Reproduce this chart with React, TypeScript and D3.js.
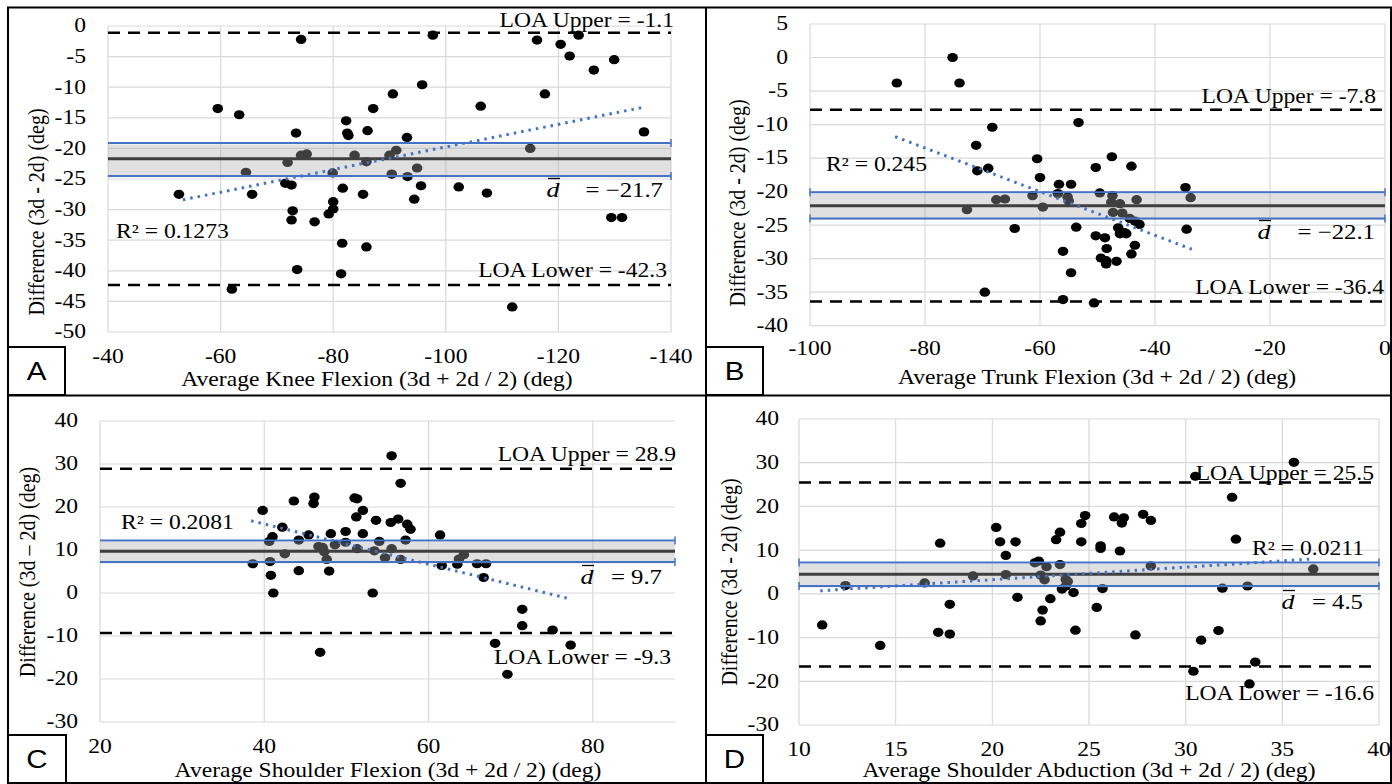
import React from 'react';
import * as d3 from 'd3';

type P = [number, number];

// ---------- DATA ----------
const kneePoints: P[] = [
  [-74.3, -2.2], [-97.7, -1.5], [-116.2, -2.3], [-120.4, -3.0], [-123.6, -1.5], [-122.0, -4.9],
  [-129.9, -5.5], [-126.3, -7.2], [-95.8, -9.6], [-90.6, -11.1], [-117.6, -11.1], [-106.2, -13.1],
  [-59.5, -13.5], [-63.3, -14.5], [-87.1, -13.5], [-82.3, -15.5], [-73.4, -17.5], [-82.5, -17.5],
  [-82.7, -17.9], [-86.1, -17.1], [-93.1, -18.2], [-135.2, -17.3], [-115.0, -20.0], [-91.2, -20.3],
  [-90.0, -21.1], [-83.8, -21.1], [-74.3, -21.1], [-75.3, -20.9], [-71.9, -22.3], [-85.9, -22.2],
  [-64.5, -23.9], [-79.9, -24.0], [-90.4, -24.2], [-94.9, -23.2], [-93.2, -24.6], [-71.5, -25.7],
  [-72.6, -26.0], [-95.6, -26.1], [-81.7, -26.5], [-102.3, -26.3], [-107.3, -27.3], [-52.6, -27.5],
  [-65.6, -27.5], [-85.3, -27.5], [-94.4, -28.3], [-80.0, -28.7], [-80.0, -29.9], [-79.2, -30.7],
  [-72.8, -30.2], [-72.6, -31.7], [-76.7, -32.0], [-129.4, -31.3], [-131.3, -31.3], [-81.6, -35.5],
  [-85.9, -36.1], [-73.6, -39.8], [-81.4, -40.5], [-62.0, -43.0], [-111.8, -45.9],
];

const trunkPoints: P[] = [
  [-75.2, 0.0], [-84.9, -3.8], [-74.0, -3.8], [-53.3, -9.7], [-68.3, -10.4], [-71.1, -13.1],
  [-69.0, -16.5], [-70.9, -16.9], [-60.5, -15.1], [-47.5, -14.8], [-50.3, -16.4], [-44.1, -16.2],
  [-60.0, -17.9], [-56.7, -18.9], [-54.6, -18.9], [-34.7, -19.4], [-33.8, -20.9], [-49.6, -20.2],
  [-47.4, -20.6], [-43.2, -21.2], [-61.3, -20.6], [-56.9, -20.3], [-55.2, -20.8], [-55.0, -21.4],
  [-67.6, -21.2], [-66.1, -21.1], [-72.7, -22.7], [-59.5, -22.3], [-47.6, -21.6], [-46.1, -21.8],
  [-47.3, -23.1], [-45.7, -23.2], [-44.4, -24.0], [-43.5, -24.4], [-42.7, -24.9], [-46.4, -25.4],
  [-46.1, -26.3], [-45.3, -26.1], [-45.0, -26.3], [-64.4, -25.5], [-53.7, -25.3], [-34.5, -25.6],
  [-50.3, -26.6], [-48.7, -26.9], [-43.5, -28.0], [-48.4, -28.5], [-56.0, -28.9], [-49.4, -29.9],
  [-48.5, -30.3], [-46.7, -30.4], [-48.5, -30.8], [-44.1, -29.3], [-54.6, -32.1], [-69.6, -35.0],
  [-56.0, -36.1], [-50.6, -36.6],
];

const shFlexPoints: P[] = [
  [55.5, 31.9], [56.6, 25.5], [46.1, 22.3], [46.0, 20.8], [43.6, 21.4], [51.0, 22.1], [51.3, 21.9],
  [39.8, 19.2], [52.0, 19.2], [51.2, 17.7], [53.6, 16.9], [55.4, 16.4], [56.3, 17.2], [57.4, 16.0],
  [57.8, 14.8], [42.2, 15.3], [45.4, 13.5], [48.1, 13.8], [49.9, 14.3], [52.0, 13.8], [61.4, 13.5],
  [41.0, 13.1], [44.2, 12.3], [40.6, 12.0], [57.2, 12.3], [54.0, 12.0], [49.9, 11.8], [48.6, 11.2],
  [46.6, 10.8], [47.1, 10.6], [55.5, 10.3], [51.3, 10.3], [53.4, 9.8], [47.3, 9.6], [42.5, 9.1],
  [47.6, 7.8], [56.6, 7.8], [54.7, 8.2], [64.3, 8.9], [63.7, 7.9], [63.5, 6.7], [61.6, 6.4],
  [38.6, 6.8], [40.7, 7.3], [65.9, 6.8], [67.0, 6.8], [66.7, 3.6], [40.8, 4.1], [44.2, 5.2],
  [47.9, 5.1], [41.1, 0.0], [53.2, 0.0], [71.4, -3.8], [71.4, -7.6], [75.1, -8.6], [68.1, -11.7],
  [77.3, -12.1], [46.8, -13.8], [69.6, -18.9],
];

const shAbdPoints: P[] = [
  [35.6, 30.1], [30.5, 26.9], [32.4, 22.1], [32.6, 12.5], [20.2, 15.2], [20.4, 11.9], [21.2, 11.9],
  [17.3, 11.6], [20.7, 8.8], [23.3, 12.4], [23.5, 14.1], [24.8, 17.9], [24.6, 16.1], [24.6, 11.9],
  [25.6, 11.0], [25.6, 10.4], [26.6, 9.8], [26.3, 17.6], [26.7, 16.2], [26.8, 17.4], [27.8, 18.2],
  [28.2, 16.8], [28.2, 6.4], [22.4, 7.5], [22.2, 7.1], [23.5, 6.7], [22.8, 6.2], [20.7, 4.4],
  [19.0, 4.1], [16.5, 2.5], [12.4, 1.9], [22.5, 4.3], [22.7, 3.2], [23.8, 3.3], [23.9, 2.8],
  [23.6, 1.1], [23.8, 1.8], [36.6, 5.7], [31.9, 1.3], [33.2, 1.8], [25.7, 1.2], [24.2, 0.3],
  [21.3, -0.8], [23.0, -1.1], [25.4, -3.1], [22.6, -3.7], [17.8, -2.4], [22.5, -6.2], [11.2, -7.1],
  [17.2, -8.8], [17.8, -9.2], [24.3, -8.3], [27.4, -9.4], [31.7, -8.4], [30.8, -10.6], [14.2, -11.8],
  [33.6, -15.6], [30.4, -17.7], [33.3, -20.6],
];

const kneeTrend: P[] = [[-53.3, -28.4], [-135.5, -13.2]];
const trunkTrend: P[] = [[-85.2, -11.8], [-33.6, -28.6]];
const shFlexTrend: P[] = [[38.4, 16.8], [77.3, -1.4]];
const shAbdTrend: P[] = [[11.1, 0.7], [36.6, 8.0]];

const meanValues = [-21.7, -22.1, 9.7, 4.5];
const ciUpper = [-19.1, -20.1, 12.2, 7.2];
const ciLower = [-24.5, -24.0, 7.2, 1.8];
const loaUpper = [-1.1, -7.8, 28.9, 25.5];
const loaLower = [-42.3, -36.4, -9.3, -16.6];
const r2Values = ['0.1273', '0.245', '0.2081', '0.0211'];
const meanLabels = ['\u221221.7', '\u221222.1', '9.7', '4.5'];
const panelLetters = ['A', 'B', 'C', 'D'];

const kneeXTicks = [-40, -60, -80, -100, -120, -140];
const kneeYTicks = [0, -5, -10, -15, -20, -25, -30, -35, -40, -45, -50];
const trunkXTicks = [-100, -80, -60, -40, -20, 0];
const trunkYTicks = [5, 0, -5, -10, -15, -20, -25, -30, -35, -40];
const shFlexXTicks = [20, 40, 60, 80];
const shFlexYTicks = [40, 30, 20, 10, 0, -10, -20, -30];
const shAbdXTicks = [10, 15, 20, 25, 30, 35, 40];
const shAbdYTicks = [40, 30, 20, 10, 0, -10, -20, -30];

const xTitles = [
  'Average Knee Flexion (3d + 2d / 2) (deg)',
  'Average Trunk Flexion (3d + 2d / 2) (deg)',
  'Average Shoulder Flexion (3d + 2d / 2) (deg)',
  'Average Shoulder Abduction (3d + 2d / 2) (deg)',
];
const yTitles = [
  'Difference (3d - 2d) (deg)',
  'Difference (3d - 2d) (deg)',
  'Difference (3d \u2013 2d) (deg)',
  'Difference (3d - 2d) (deg)',
];

// ---------- LAYOUT ----------
const SERIF = '"Liberation Serif", "Times New Roman", serif';
const SANS = '"Liberation Sans", Arial, sans-serif';
const SX = 1.18;
const BLUE = '#4472c4';

type Layout = {
  left: number; right: number; top: number; bottom: number;
  xDomain: [number, number]; yDomain: [number, number];
  yLabelRight: number; xLabelY: number;
  yTitle: [number, number]; xTitle: [number, number];
  box: [number, number, number, number];
  loaUText: [number, number]; loaLText: [number, number];
  r2Text: [number, number, 'start' | 'end'];
  dText: [number, number, number];
  capLeft: boolean;
};

const layouts: Layout[] = [
  {
    left: 108, right: 671, top: 26, bottom: 332, xDomain: [-40, -140], yDomain: [-50, 0],
    yLabelRight: 86, xLabelY: 357, yTitle: [36, 212], xTitle: [377, 380],
    box: [8, 347, 65, 395], loaUText: [674, 21], loaLText: [667, 271],
    r2Text: [116, 232, 'start'], dText: [553, 663, 190], capLeft: false,
  },
  {
    left: 810, right: 1385, top: 24, bottom: 325.7, xDomain: [-100, 0], yDomain: [-40, 5],
    yLabelRight: 788, xLabelY: 349, yTitle: [737, 203], xTitle: [1097, 378],
    box: [706, 347, 763, 395], loaUText: [1376, 97], loaLText: [1384, 288],
    r2Text: [826, 165, 'start'], dText: [1264, 1375, 232], capLeft: true,
  },
  {
    left: 100, right: 675, top: 421, bottom: 722, xDomain: [20, 90], yDomain: [-30, 40],
    yLabelRight: 78, xLabelY: 747, yTitle: [27, 572], xTitle: [388, 771],
    box: [8, 735, 66, 784], loaUText: [676, 455], loaLText: [671, 658],
    r2Text: [121, 523, 'start'], dText: [587, 662, 577], capLeft: false,
  },
  {
    left: 799, right: 1379, top: 419, bottom: 725, xDomain: [10, 40], yDomain: [-30, 40],
    yLabelRight: 779, xLabelY: 750, yTitle: [729, 582], xTitle: [1089, 771],
    box: [706, 735, 763, 784], loaUText: [1374, 474], loaLText: [1374, 694],
    r2Text: [1364, 549, 'end'], dText: [1288, 1363, 602], capLeft: true,
  },
];

const panelPoints = [kneePoints, trunkPoints, shFlexPoints, shAbdPoints];
const panelTrends = [kneeTrend, trunkTrend, shFlexTrend, shAbdTrend];
const panelXTicks = [kneeXTicks, trunkXTicks, shFlexXTicks, shAbdXTicks];
const panelYTicks = [kneeYTicks, trunkYTicks, shFlexYTicks, shAbdYTicks];

function T(props: {
  x: number; y: number; anchor?: 'start' | 'middle' | 'end'; size?: number; family?: string;
  rotate?: boolean; italic?: boolean; children: React.ReactNode;
}) {
  const { x, y, anchor = 'middle', size = 20, family = SERIF, rotate = false, italic = false } = props;
  const tr = `translate(${x},${y}) scale(${SX},1)` + (rotate ? ' rotate(-90)' : '');
  return (
    <text transform={tr} textAnchor={anchor} dominantBaseline="central" fontSize={size}
      fontFamily={family} fontStyle={italic ? 'italic' : 'normal'} fill="#000">
      {props.children}
    </text>
  );
}

function Panel({ i }: { i: number }) {
  const L = layouts[i];
  const x = d3.scaleLinear().domain(L.xDomain).range([L.left, L.right]);
  const y = d3.scaleLinear().domain(L.yDomain).range([L.bottom, L.top]);
  const pts = panelPoints[i];
  const trend = panelTrends[i];
  const line = d3.line<P>().x(d => x(d[0])).y(d => y(d[1]));
  const xt = panelXTicks[i];
  const yt = panelYTicks[i];
  const bandTop = y(ciUpper[i]);
  const bandBot = y(ciLower[i]);
  return (
    <g>
      {/* gridlines */}
      {yt.map(v => (
        <line key={'gy' + v} x1={L.left} x2={L.right} y1={y(v)} y2={y(v)} stroke="#d9d9d9" strokeWidth={1.2} />
      ))}
      {xt.map(v => (
        <line key={'gx' + v} x1={x(v)} x2={x(v)} y1={L.top} y2={L.bottom} stroke="#d9d9d9" strokeWidth={1.2} />
      ))}
      {/* tick labels */}
      {yt.map(v => (
        <T key={'ly' + v} x={L.yLabelRight} y={y(v)} anchor="end">{String(v)}</T>
      ))}
      {xt.map(v => (
        <T key={'lx' + v} x={x(v)} y={L.xLabelY}>{String(v)}</T>
      ))}
      {/* mean line (under band) */}
      <line x1={L.left} x2={L.right} y1={y(meanValues[i])} y2={y(meanValues[i])} stroke="#000" strokeWidth={3} />
      {/* LOA lines */}
      {[loaUpper[i], loaLower[i]].map((v, k) => (
        <line key={'loa' + k} x1={L.left} x2={L.right} y1={y(v)} y2={y(v)} stroke="#000"
          strokeWidth={2.5} strokeDasharray="12 8" />
      ))}
      {/* points */}
      {pts.map((p, k) => (
        <ellipse key={'p' + k} cx={x(p[0])} cy={y(p[1])} rx={5.3} ry={4.6} fill="#000" />
      ))}
      {/* band */}
      <rect x={L.left} width={L.right - L.left} y={bandTop + 1.5} height={bandBot - bandTop}
        fill="rgb(172,172,172)" fillOpacity={0.37} />
      {/* CI blue lines */}
      {[ciUpper[i], ciLower[i]].map((v, k) => (
        <g key={'ci' + k}>
          <line x1={L.left} x2={L.right} y1={y(v)} y2={y(v)} stroke={BLUE} strokeWidth={2} />
          <line x1={L.right} x2={L.right} y1={y(v) - 4} y2={y(v) + 4} stroke={BLUE} strokeWidth={1.5} />
          {L.capLeft && <line x1={L.left} x2={L.left} y1={y(v) - 4} y2={y(v) + 4} stroke={BLUE} strokeWidth={1.5} />}
        </g>
      ))}
      {/* trend */}
      <path d={line(trend) || ''} fill="none" stroke={BLUE} strokeWidth={3} strokeDasharray="2.5 5" />
      {/* annotations */}
      <T x={L.loaUText[0]} y={L.loaUText[1]} anchor="end">{`LOA Upper = ${loaUpper[i]}`}</T>
      <T x={L.loaLText[0]} y={L.loaLText[1]} anchor="end">{`LOA Lower = ${loaLower[i]}`}</T>
      <T x={L.r2Text[0]} y={L.r2Text[1]} anchor={L.r2Text[2]}>{`R\u00B2 = ${r2Values[i]}`}</T>
      <T x={L.dText[0]} y={L.dText[2]} italic size={22}>d</T>
      <line x1={L.dText[0] - 5} x2={L.dText[0] + 7} y1={L.dText[2] - 11.5} y2={L.dText[2] - 11.5} stroke="#000" strokeWidth={1.3} />
      <T x={L.dText[1]} y={L.dText[2]} anchor="end" size={21}>{`=  ${meanLabels[i]}`}</T>
      {/* titles */}
      <T x={L.xTitle[0]} y={L.xTitle[1]}>{xTitles[i]}</T>
      <T x={L.yTitle[0]} y={L.yTitle[1]} rotate>{yTitles[i]}</T>
      {/* letter box */}
      <rect x={L.box[0]} y={L.box[1]} width={L.box[2] - L.box[0]} height={L.box[3] - L.box[1]}
        fill="#fff" stroke="#000" strokeWidth={2} />
      <T x={(L.box[0] + L.box[2]) / 2} y={(L.box[1] + L.box[3]) / 2} size={25} family={SANS}>{panelLetters[i]}</T>
    </g>
  );
}

export default function App() {
  return (
    <svg width={1392} height={784} style={{ position: 'absolute', left: 0, top: 0, background: '#fff' }}>
      <rect x={0} y={0} width={1392} height={784} fill="#fff" />
      {[0, 1, 2, 3].map(i => <Panel key={i} i={i} />)}
      {/* frame */}
      <rect x={8} y={7.5} width={1383} height={775.5} fill="none" stroke="#000" strokeWidth={2} />
      <line x1={706} x2={706} y1={7.5} y2={783} stroke="#000" strokeWidth={2} />
      <line x1={8} x2={1391} y1={395.5} y2={395.5} stroke="#000" strokeWidth={2} />
    </svg>
  );
}
